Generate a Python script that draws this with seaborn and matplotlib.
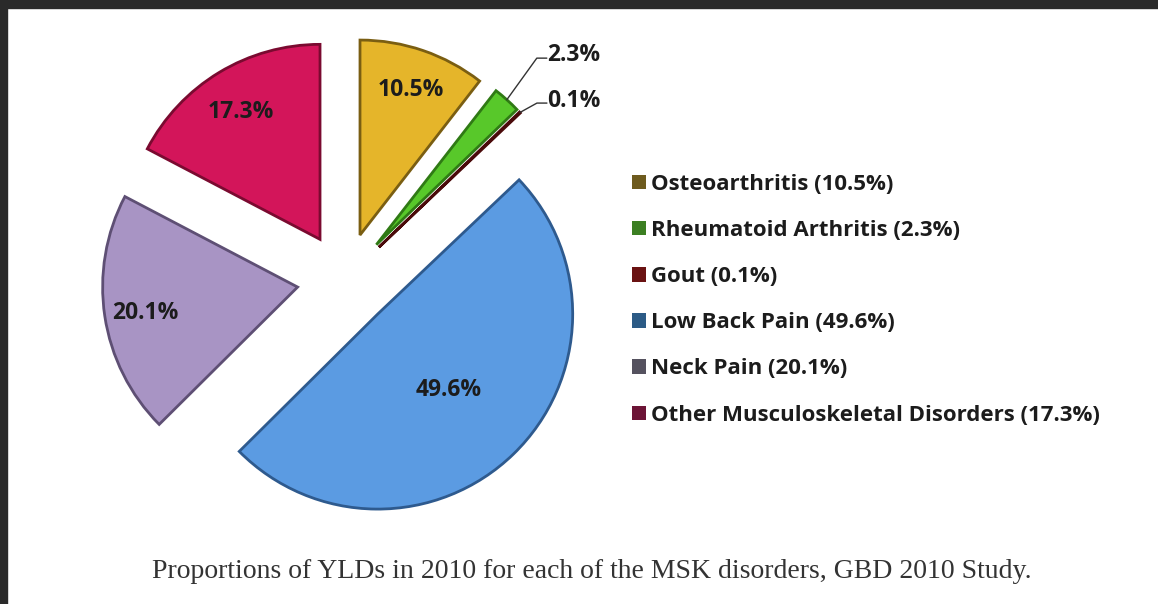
import numpy as np
import matplotlib
matplotlib.use("Agg")
import matplotlib.pyplot as plt
from matplotlib.patches import Patch, Rectangle
import seaborn as sns

# ---- data ----
categories = ["Osteoarthritis", "Rheumatoid Arthritis", "Gout",
              "Low Back Pain", "Neck Pain", "Other Musculoskeletal Disorders"]
shares = [10.5, 2.3, 0.1, 49.6, 20.1, 17.3]
pie_colors = ["#E5B52A", "#58C82A", "#8C1C1C", "#5B9BE2", "#A894C4", "#D3155A"]
edge_colors = ["#7A5E12", "#2F7A14", "#4A0A0A", "#2E5A8E", "#5E4F74", "#7A0A30"]
legend_colors = ["#6E5B1E", "#3C7F22", "#6A1212", "#2C5B86", "#55525F", "#6C1436"]
caption = "Proportions of YLDs in 2010 for each of the MSK disorders, GBD 2010 Study."

sns.set_theme(style="white")
plt.rcParams['font.family'] = ['Open Sans', 'DejaVu Sans']

W, H = 1158, 604
fig = plt.figure(figsize=(W / 100, H / 100), dpi=100)
fig.patch.set_facecolor("white")
ax = fig.add_axes([0, 0, 1, 1])

R = 195
center = (344.6, H - 280)
explode = [47.5] * len(shares)
wedges, _ = ax.pie(shares, colors=pie_colors, startangle=90, counterclock=False,
                   radius=R, center=center, explode=explode,
                   wedgeprops=dict(linewidth=2.0))
for w, ec in zip(wedges, edge_colors):
    w.set_edgecolor(ec)

ax.set_xlim(0, W)
ax.set_ylim(0, H)
ax.set_aspect("equal")
ax.axis("off")

txt_color = "#1c1c1c"
lab_size = 16.5
inner_dist = [0.80, None, None, 0.52, 0.79, 0.78]
leader = {1: (30, 41.6, 6), 2: (17, 9.4, 5)}   # (dx, rise, text lift)
for i, (w, s, d) in enumerate(zip(wedges, shares, inner_dist)):
    tm = np.deg2rad((w.theta1 + w.theta2) / 2)
    cx, cy = w.center
    if d is not None:
        ax.text(cx + d * R * np.cos(tm), cy + d * R * np.sin(tm) - 3, f"{s}%",
                ha="center", va="center", fontsize=lab_size, fontweight="bold",
                color=txt_color)
    else:
        dx, rise, lift = leader[i]
        ox, oy = cx + R * np.cos(tm), cy + R * np.sin(tm)
        ex, ey = ox + dx, oy + rise
        ax.plot([ox, ex, ex + 10], [oy, ey, ey], color="#333333", lw=1.0)
        ax.text(ex + 10, ey + lift - 3, f"{s}%", ha="left", va="center",
                fontsize=lab_size, fontweight="bold", color=txt_color)

handles = [Patch(facecolor=c, edgecolor="none") for c in legend_colors]
labels = [f"{c} ({s}%)" for c, s in zip(categories, shares)]
ax.legend(handles, labels, loc="upper left", bbox_to_anchor=(632 / W, 1 - 174 / H),
          bbox_transform=fig.transFigure, frameon=False,
          prop={"weight": "bold", "size": 16}, labelcolor=txt_color,
          handlelength=0.62, handleheight=0.62, handletextpad=0.22,
          labelspacing=1.13, borderpad=0, borderaxespad=0)

fig.text(592 / W, 1 - 571 / H, caption, ha="center", va="center",
         family="Liberation Serif", fontsize=20, color="#333333")

# dark frame on top and left
fig.add_artist(Rectangle((0, 1 - 8 / H), 1, 8 / H, transform=fig.transFigure,
                         color="#2a2a2a", zorder=10))
fig.add_artist(Rectangle((0, 0), 7 / W, 1, transform=fig.transFigure,
                         color="#2a2a2a", zorder=10))

fig.savefig("out.png", dpi=100, facecolor="white")
